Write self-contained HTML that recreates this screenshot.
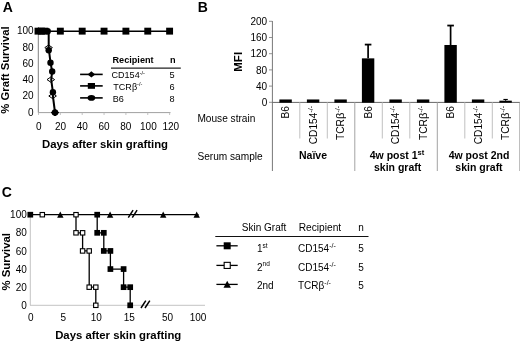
<!DOCTYPE html>
<html><head><meta charset="utf-8"><title>Figure</title>
<style>html,body{margin:0;padding:0;background:#fff;overflow:hidden}svg{display:block;filter:blur(0.3px)}text{font-family:"Liberation Sans", Arial, sans-serif;fill:#000}</style>
</head><body>
<svg width="520" height="342" viewBox="0 0 520 342">
<rect width="520" height="342" fill="#fff"/>
<text x="2.7" y="11.9" font-size="14" text-anchor="start" font-weight="bold">A</text>
<line x1="38.3" y1="27" x2="38.3" y2="112.6" stroke="#808080" stroke-width="1"/>
<line x1="38" y1="112.6" x2="170.5" y2="112.6" stroke="#a0a0a0" stroke-width="1"/>
<text x="33.6" y="115.8" font-size="10" text-anchor="end">0</text>
<text x="33.6" y="99.48" font-size="10" text-anchor="end">20</text>
<text x="33.6" y="83.16" font-size="10" text-anchor="end">40</text>
<text x="33.6" y="66.84" font-size="10" text-anchor="end">60</text>
<text x="33.6" y="50.52" font-size="10" text-anchor="end">80</text>
<text x="33.6" y="34.2" font-size="10" text-anchor="end">100</text>
<text x="38.8" y="129.8" font-size="10" text-anchor="middle">0</text>
<line x1="38.5" y1="112.6" x2="38.5" y2="115" stroke="#b4b4b4" stroke-width="0.8"/>
<text x="60.6" y="129.8" font-size="10" text-anchor="middle">20</text>
<line x1="60.35" y1="112.6" x2="60.35" y2="115" stroke="#b4b4b4" stroke-width="0.8"/>
<text x="82.3" y="129.8" font-size="10" text-anchor="middle">40</text>
<line x1="82.2" y1="112.6" x2="82.2" y2="115" stroke="#b4b4b4" stroke-width="0.8"/>
<text x="104" y="129.8" font-size="10" text-anchor="middle">60</text>
<line x1="104.05" y1="112.6" x2="104.05" y2="115" stroke="#b4b4b4" stroke-width="0.8"/>
<text x="125.7" y="129.8" font-size="10" text-anchor="middle">80</text>
<line x1="125.9" y1="112.6" x2="125.9" y2="115" stroke="#b4b4b4" stroke-width="0.8"/>
<text x="148.4" y="129.8" font-size="10" text-anchor="middle">100</text>
<line x1="147.75" y1="112.6" x2="147.75" y2="115" stroke="#b4b4b4" stroke-width="0.8"/>
<text x="170.8" y="129.8" font-size="10" text-anchor="middle">120</text>
<line x1="169.6" y1="112.6" x2="169.6" y2="115" stroke="#b4b4b4" stroke-width="0.8"/>
<text x="6.3" y="70" font-size="11.3" text-anchor="middle" font-weight="bold" transform="rotate(-90 6.3 70)" dominant-baseline="middle">% Graft Survival</text>
<text x="105" y="147.5" font-size="11.35" text-anchor="middle" font-weight="bold">Days after skin grafting</text>
<line x1="38" y1="31.15" x2="169.6" y2="31.15" stroke="#000" stroke-width="1.5"/>
<rect x="34.55" y="27.7" width="6.9" height="6.9" fill="#000" stroke="none" stroke-width="0"/>
<rect x="38.0" y="27.7" width="6.9" height="6.9" fill="#000" stroke="none" stroke-width="0"/>
<rect x="41.449999999999996" y="27.7" width="6.9" height="6.9" fill="#000" stroke="none" stroke-width="0"/>
<rect x="56.9" y="27.7" width="6.9" height="6.9" fill="#000" stroke="none" stroke-width="0"/>
<rect x="78.75" y="27.7" width="6.9" height="6.9" fill="#000" stroke="none" stroke-width="0"/>
<rect x="100.6" y="27.7" width="6.9" height="6.9" fill="#000" stroke="none" stroke-width="0"/>
<rect x="122.45" y="27.7" width="6.9" height="6.9" fill="#000" stroke="none" stroke-width="0"/>
<rect x="144.3" y="27.7" width="6.9" height="6.9" fill="#000" stroke="none" stroke-width="0"/>
<rect x="166.15" y="27.7" width="6.9" height="6.9" fill="#000" stroke="none" stroke-width="0"/>
<polygon points="44.800000000000004,47.6 48.6,45.0 52.4,47.6 48.6,50.2" fill="#fff" stroke="#000" stroke-width="1"/>
<polygon points="47.0,79.6 50.8,77.0 54.599999999999994,79.6 50.8,82.19999999999999" fill="#fff" stroke="#000" stroke-width="1"/>
<polygon points="48.800000000000004,96 52.6,93.4 56.4,96 52.6,98.6" fill="#fff" stroke="#000" stroke-width="1"/>
<polyline points="48.7,31.15 48.7,48 50.5,62.7 52.2,71.5 51.2,79.6 52.9,92.2 52.9,96 55,112.5" fill="none" stroke="#000" stroke-width="2" stroke-linejoin="round"/>
<circle cx="47.7" cy="31.15" r="3.2" fill="#000"/>
<circle cx="48.7" cy="50.3" r="3.2" fill="#000"/>
<circle cx="50.5" cy="62.7" r="3.2" fill="#000"/>
<circle cx="52.2" cy="71.5" r="3.2" fill="#000"/>
<circle cx="52.9" cy="92.2" r="3.2" fill="#000"/>
<circle cx="55" cy="112.5" r="3.2" fill="#000"/>
<polygon points="51.2,112.6 55,109.3 58.8,112.6 55,115.89999999999999" fill="#000" stroke="#000" stroke-width="1"/>
<text x="112.5" y="62.6" font-size="9.15" text-anchor="start" font-weight="bold">Recipient</text>
<text x="169.9" y="62.6" font-size="9.15" text-anchor="start" font-weight="bold">n</text>
<line x1="111" y1="68.2" x2="180.8" y2="68.2" stroke="#222" stroke-width="1.2"/>
<line x1="80.1" y1="74.4" x2="102.7" y2="74.4" stroke="#000" stroke-width="1.6"/>
<polygon points="87.60000000000001,74.4 91.4,71.30000000000001 95.2,74.4 91.4,77.5" fill="#000"/>
<text x="111.5" y="78.1" font-size="9.05" text-anchor="start">CD154<tspan font-size="5.5" dy="-3.3">-/-</tspan></text>
<text x="172.1" y="78.2" font-size="9.2" text-anchor="middle">5</text>
<line x1="80.1" y1="85.9" x2="102.7" y2="85.9" stroke="#000" stroke-width="1.6"/>
<rect x="87.80000000000001" y="83.0" width="7.2" height="5.8" fill="#000"/>
<text x="113.3" y="89.6" font-size="9.05" text-anchor="start">TCR&#946;<tspan font-size="5.5" dy="-3.3">-/-</tspan></text>
<text x="172.1" y="89.7" font-size="9.2" text-anchor="middle">6</text>
<line x1="80.1" y1="97.9" x2="102.7" y2="97.9" stroke="#000" stroke-width="1.6"/>
<ellipse cx="91.4" cy="97.9" rx="3.8" ry="2.8" fill="#000"/>
<text x="112.8" y="101.6" font-size="9.05" text-anchor="start">B6</text>
<text x="172.1" y="101.7" font-size="9.2" text-anchor="middle">8</text>
<text x="197.7" y="11.9" font-size="14" text-anchor="start" font-weight="bold">B</text>
<text x="267.2" y="105.9" font-size="10" text-anchor="end">0</text>
<line x1="269" y1="102.3" x2="272.3" y2="102.3" stroke="#777" stroke-width="0.8"/>
<text x="267.2" y="89.7" font-size="10" text-anchor="end">40</text>
<line x1="269" y1="86.1" x2="272.3" y2="86.1" stroke="#777" stroke-width="0.8"/>
<text x="267.2" y="73.5" font-size="10" text-anchor="end">80</text>
<line x1="269" y1="69.89999999999999" x2="272.3" y2="69.89999999999999" stroke="#777" stroke-width="0.8"/>
<text x="267.2" y="57.3" font-size="10" text-anchor="end">120</text>
<line x1="269" y1="53.699999999999996" x2="272.3" y2="53.699999999999996" stroke="#777" stroke-width="0.8"/>
<text x="267.2" y="41.1" font-size="10" text-anchor="end">160</text>
<line x1="269" y1="37.5" x2="272.3" y2="37.5" stroke="#777" stroke-width="0.8"/>
<text x="267.2" y="24.9" font-size="10" text-anchor="end">200</text>
<line x1="269" y1="21.3" x2="272.3" y2="21.3" stroke="#777" stroke-width="0.8"/>
<text x="239.2" y="61.8" font-size="11.5" text-anchor="middle" font-weight="bold" transform="rotate(-90 239.2 61.8)" dominant-baseline="middle">MFI</text>
<line x1="272.4" y1="21" x2="272.4" y2="171" stroke="#777" stroke-width="1"/>
<line x1="272.3" y1="102.4" x2="520" y2="102.4" stroke="#666" stroke-width="1"/>
<line x1="299.8" y1="102" x2="299.8" y2="138.5" stroke="#b0b0b0" stroke-width="0.8"/>
<line x1="327.3" y1="102" x2="327.3" y2="138.5" stroke="#b0b0b0" stroke-width="0.8"/>
<line x1="354.8" y1="102" x2="354.8" y2="171" stroke="#999" stroke-width="0.9"/>
<line x1="382.3" y1="102" x2="382.3" y2="138.5" stroke="#b0b0b0" stroke-width="0.8"/>
<line x1="409.8" y1="102" x2="409.8" y2="138.5" stroke="#b0b0b0" stroke-width="0.8"/>
<line x1="437.3" y1="102" x2="437.3" y2="171" stroke="#999" stroke-width="0.9"/>
<line x1="464.8" y1="102" x2="464.8" y2="138.5" stroke="#b0b0b0" stroke-width="0.8"/>
<line x1="492.3" y1="102" x2="492.3" y2="138.5" stroke="#b0b0b0" stroke-width="0.8"/>
<line x1="519.8" y1="102" x2="519.8" y2="171" stroke="#999" stroke-width="0.9"/>
<rect x="279.40" y="99.46" width="12.4" height="3.24" fill="#000"/>
<text x="289.1" y="106.0" font-size="10.2" text-anchor="end" transform="rotate(-90 289.1 106.0)">B6</text>
<rect x="306.90" y="99.46" width="12.4" height="3.24" fill="#000"/>
<text x="316.6" y="105.8" font-size="10.2" text-anchor="end" transform="rotate(-90 316.6 105.8)">CD154<tspan font-size="7.2" dy="-3.8">-/-</tspan></text>
<rect x="334.40" y="99.46" width="12.4" height="3.24" fill="#000"/>
<text x="344.1" y="105.8" font-size="10.2" text-anchor="end" transform="rotate(-90 344.1 105.8)">TCR<tspan font-size="11.3">&#946;</tspan><tspan font-size="7.2" dy="-3.8">-/-</tspan></text>
<rect x="361.90" y="58.36" width="12.4" height="44.34" fill="#000"/>
<line x1="368.1" y1="58.36" x2="368.1" y2="44.59" stroke="#000" stroke-width="1.7"/>
<line x1="364.8" y1="44.59" x2="371.4" y2="44.59" stroke="#000" stroke-width="1.8"/>
<text x="371.6" y="106.0" font-size="10.2" text-anchor="end" transform="rotate(-90 371.6 106.0)">B6</text>
<rect x="389.40" y="99.46" width="12.4" height="3.24" fill="#000"/>
<text x="399.1" y="105.8" font-size="10.2" text-anchor="end" transform="rotate(-90 399.1 105.8)">CD154<tspan font-size="7.2" dy="-3.8">-/-</tspan></text>
<rect x="416.90" y="99.46" width="12.4" height="3.24" fill="#000"/>
<text x="426.6" y="105.8" font-size="10.2" text-anchor="end" transform="rotate(-90 426.6 105.8)">TCR<tspan font-size="11.3">&#946;</tspan><tspan font-size="7.2" dy="-3.8">-/-</tspan></text>
<rect x="444.40" y="44.99" width="12.4" height="57.71" fill="#000"/>
<line x1="450.6" y1="44.99" x2="450.6" y2="25.55" stroke="#000" stroke-width="1.7"/>
<line x1="447.3" y1="25.55" x2="453.9" y2="25.55" stroke="#000" stroke-width="1.8"/>
<text x="454.1" y="106.0" font-size="10.2" text-anchor="end" transform="rotate(-90 454.1 106.0)">B6</text>
<rect x="471.90" y="99.46" width="12.4" height="3.24" fill="#000"/>
<text x="481.6" y="105.8" font-size="10.2" text-anchor="end" transform="rotate(-90 481.6 105.8)">CD154<tspan font-size="7.2" dy="-3.8">-/-</tspan></text>
<rect x="499.40" y="100.68" width="12.4" height="2.02" fill="#000"/>
<line x1="505.6" y1="100.68" x2="505.6" y2="99.46" stroke="#000" stroke-width="1.2"/>
<line x1="503.4" y1="99.46" x2="507.8" y2="99.46" stroke="#000" stroke-width="1.1"/>
<text x="509.1" y="105.8" font-size="10.2" text-anchor="end" transform="rotate(-90 509.1 105.8)">TCR<tspan font-size="11.3">&#946;</tspan><tspan font-size="7.2" dy="-3.8">-/-</tspan></text>
<text x="197.4" y="122.1" font-size="10.15" text-anchor="start">Mouse strain</text>
<text x="197.4" y="160" font-size="10.15" text-anchor="start">Serum sample</text>
<text x="313" y="159.3" font-size="10.5" text-anchor="middle" font-weight="bold">Na&#239;ve</text>
<text x="397" y="159.3" font-size="10.5" text-anchor="middle" font-weight="bold">4w post 1<tspan font-size="7.5" dy="-4.8">st</tspan></text>
<text x="397.6" y="170.5" font-size="10.5" text-anchor="middle" font-weight="bold">skin graft</text>
<text x="479" y="159.3" font-size="10.5" text-anchor="middle" font-weight="bold">4w post 2nd</text>
<text x="479" y="170.5" font-size="10.5" text-anchor="middle" font-weight="bold">skin graft</text>
<text x="1.7" y="196.9" font-size="14" text-anchor="start" font-weight="bold">C</text>
<line x1="30.3" y1="214" x2="30.3" y2="305.3" stroke="#c4c4c4" stroke-width="1"/>
<line x1="30" y1="305.3" x2="205" y2="305.3" stroke="#c4c4c4" stroke-width="1"/>
<text x="26.8" y="308.90000000000003" font-size="10" text-anchor="end">0</text>
<text x="26.8" y="290.78000000000003" font-size="10" text-anchor="end">20</text>
<text x="26.8" y="272.66" font-size="10" text-anchor="end">40</text>
<text x="26.8" y="254.54" font-size="10" text-anchor="end">60</text>
<text x="26.8" y="236.42" font-size="10" text-anchor="end">80</text>
<text x="26.8" y="218.29999999999998" font-size="10" text-anchor="end">100</text>
<text x="30.8" y="321.1" font-size="10" text-anchor="middle">0</text>
<text x="63.2" y="321.1" font-size="10" text-anchor="middle">5</text>
<text x="96.3" y="321.1" font-size="10" text-anchor="middle">10</text>
<text x="129.3" y="321.1" font-size="10" text-anchor="middle">15</text>
<text x="167.6" y="321.1" font-size="10" text-anchor="middle">50</text>
<text x="198.1" y="321.1" font-size="10" text-anchor="middle">100</text>
<text x="6.8" y="261.8" font-size="11.4" text-anchor="middle" font-weight="bold" transform="rotate(-90 6.8 261.8)" dominant-baseline="middle">% Survival</text>
<text x="118.2" y="338.6" font-size="11.35" text-anchor="middle" font-weight="bold">Days after skin grafting</text>
<line x1="30.3" y1="214.7" x2="198.5" y2="214.7" stroke="#000" stroke-width="1.3"/>
<line x1="128.29999999999998" y1="217.6" x2="133.1" y2="210.20000000000002" stroke="#000" stroke-width="1.5"/>
<line x1="132.29999999999998" y1="217.6" x2="137.1" y2="210.20000000000002" stroke="#000" stroke-width="1.5"/>
<line x1="141.0" y1="308.0" x2="145.8" y2="300.6" stroke="#000" stroke-width="1.5"/>
<line x1="145.0" y1="308.0" x2="149.8" y2="300.6" stroke="#000" stroke-width="1.5"/>
<polyline points="76.0,214.7 76.0,232.82 82.6,232.82 82.6,250.94 89.2,250.94 89.2,287.18 95.8,287.18 95.8,305.3" fill="none" stroke="#000" stroke-width="1.3"/>
<polyline points="97.2,214.7 97.2,232.82 103.8,232.82 103.8,250.94 110.4,250.94 110.4,269.06 123.6,269.06 123.6,287.18 130.2,287.18 130.2,305.3" fill="none" stroke="#000" stroke-width="1.3"/>
<polygon points="57.099999999999994,217.7 60.3,211.5 63.5,217.7" fill="#000"/>
<polygon points="106.89999999999999,217.7 110.1,211.5 113.3,217.7" fill="#000"/>
<polygon points="160.0,217.7 163.2,211.5 166.39999999999998,217.7" fill="#000"/>
<polygon points="193.5,217.7 196.7,211.5 199.89999999999998,217.7" fill="#000"/>
<rect x="40.099999999999994" y="212.5" width="4.4" height="4.4" fill="#fff" stroke="#000" stroke-width="1.1"/>
<rect x="73.8" y="212.5" width="4.4" height="4.4" fill="#fff" stroke="#000" stroke-width="1.1"/>
<rect x="73.8" y="230.62" width="4.4" height="4.4" fill="#fff" stroke="#000" stroke-width="1.1"/>
<rect x="80.39999999999999" y="230.62" width="4.4" height="4.4" fill="#fff" stroke="#000" stroke-width="1.1"/>
<rect x="80.39999999999999" y="248.74" width="4.4" height="4.4" fill="#fff" stroke="#000" stroke-width="1.1"/>
<rect x="87.0" y="248.74" width="4.4" height="4.4" fill="#fff" stroke="#000" stroke-width="1.1"/>
<rect x="87.0" y="284.98" width="4.4" height="4.4" fill="#fff" stroke="#000" stroke-width="1.1"/>
<rect x="93.6" y="284.98" width="4.4" height="4.4" fill="#fff" stroke="#000" stroke-width="1.1"/>
<rect x="93.6" y="303.1" width="4.4" height="4.4" fill="#fff" stroke="#000" stroke-width="1.1"/>
<rect x="27.45" y="211.85" width="5.7" height="5.7" fill="#000" stroke="none" stroke-width="0"/>
<rect x="94.35000000000001" y="211.85" width="5.7" height="5.7" fill="#000" stroke="none" stroke-width="0"/>
<rect x="94.35000000000001" y="229.97" width="5.7" height="5.7" fill="#000" stroke="none" stroke-width="0"/>
<rect x="100.95" y="229.97" width="5.7" height="5.7" fill="#000" stroke="none" stroke-width="0"/>
<rect x="100.95" y="248.09" width="5.7" height="5.7" fill="#000" stroke="none" stroke-width="0"/>
<rect x="107.55000000000001" y="248.09" width="5.7" height="5.7" fill="#000" stroke="none" stroke-width="0"/>
<rect x="107.55000000000001" y="266.21" width="5.7" height="5.7" fill="#000" stroke="none" stroke-width="0"/>
<rect x="120.75" y="266.21" width="5.7" height="5.7" fill="#000" stroke="none" stroke-width="0"/>
<rect x="120.75" y="284.33" width="5.7" height="5.7" fill="#000" stroke="none" stroke-width="0"/>
<rect x="127.35" y="284.33" width="5.7" height="5.7" fill="#000" stroke="none" stroke-width="0"/>
<rect x="127.35" y="302.45" width="5.7" height="5.7" fill="#000" stroke="none" stroke-width="0"/>
<text x="241.8" y="231.1" font-size="10" text-anchor="start">Skin Graft</text>
<text x="298.7" y="231.1" font-size="10.2" text-anchor="start">Recipient</text>
<text x="361" y="231.1" font-size="10" text-anchor="middle">n</text>
<line x1="215.3" y1="236.5" x2="368.5" y2="236.5" stroke="#111" stroke-width="1.2"/>
<line x1="216.4" y1="245.8" x2="237.7" y2="245.8" stroke="#000" stroke-width="1.3"/>
<rect x="223.7" y="242.3" width="7" height="7" fill="#000" stroke="none" stroke-width="0"/>
<text x="257" y="252.3" font-size="10" text-anchor="start">1<tspan font-size="6.5" dy="-4.4">st</tspan></text>
<text x="298" y="252.3" font-size="10" text-anchor="start">CD154<tspan font-size="7" dy="-4">-/-</tspan></text>
<text x="361" y="252.3" font-size="10" text-anchor="middle">5</text>
<line x1="216.4" y1="265.4" x2="237.7" y2="265.4" stroke="#000" stroke-width="1.3"/>
<rect x="224.14999999999998" y="262.34999999999997" width="6.1" height="6.1" fill="#fff" stroke="#000" stroke-width="1.1"/>
<text x="257" y="270.8" font-size="10" text-anchor="start">2<tspan font-size="6.5" dy="-4.4">nd</tspan></text>
<text x="298" y="270.8" font-size="10" text-anchor="start">CD154<tspan font-size="7" dy="-4">-/-</tspan></text>
<text x="361" y="270.8" font-size="10" text-anchor="middle">5</text>
<line x1="216.4" y1="284.4" x2="237.7" y2="284.4" stroke="#000" stroke-width="1.3"/>
<polygon points="223.5,287.7 227.2,280.7 230.89999999999998,287.7" fill="#000"/>
<text x="257" y="289.2" font-size="10" text-anchor="start">2nd</text>
<text x="298" y="289.2" font-size="10" text-anchor="start">TCR&#946;<tspan font-size="7" dy="-4">-/-</tspan></text>
<text x="361" y="289.2" font-size="10" text-anchor="middle">5</text>
</svg>
</body></html>
